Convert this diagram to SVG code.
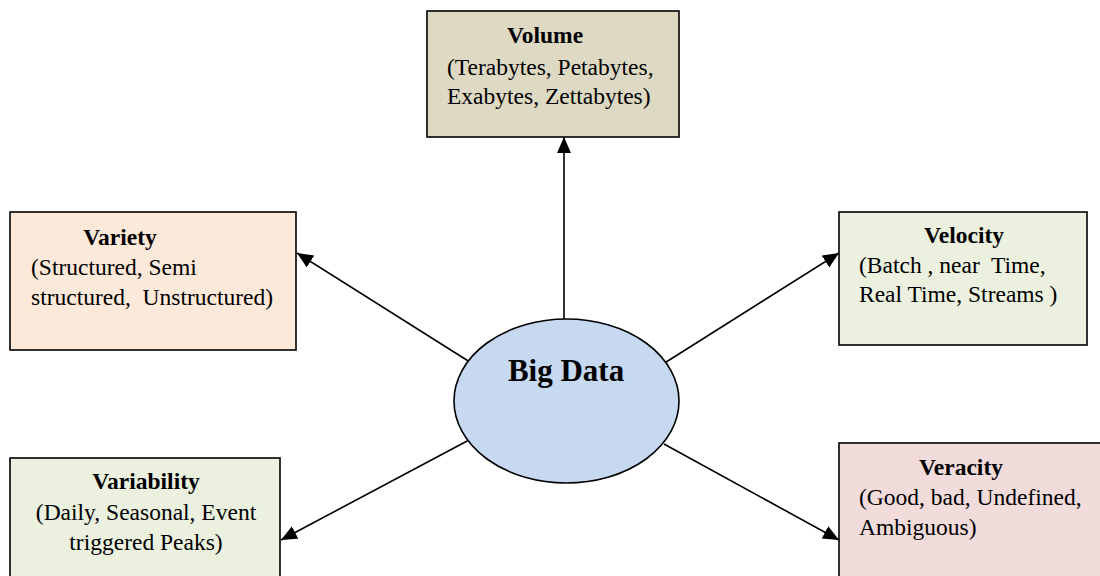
<svg xmlns="http://www.w3.org/2000/svg" width="1100" height="576" viewBox="0 0 1100 576">
<defs>
<marker id="arr" markerUnits="userSpaceOnUse" markerWidth="18" markerHeight="16" refX="16" refY="7" orient="auto">
<path d="M0,0 L16,7 L0,14 Z" fill="#000"/>
</marker>
<style>
.box{stroke:#000;stroke-width:1.6}
.t{font-family:"Liberation Serif","Times New Roman",serif;font-size:23.5px;fill:#000}
.b{font-weight:bold}
.edge{stroke:#000;stroke-width:1.6;fill:none;marker-end:url(#arr)}
</style>
</defs>
<rect width="1100" height="576" fill="#fff"/>
<g id="connectors">
<line class="edge" x1="564" y1="319" x2="564" y2="137"/>
<line class="edge" x1="473" y1="364" x2="297" y2="253"/>
<line class="edge" x1="663" y1="364" x2="839" y2="253"/>
<line class="edge" x1="469" y1="440" x2="281" y2="540"/>
<line class="edge" x1="664" y1="444" x2="839" y2="540"/>
</g>
<g id="volume">
<rect class="box" x="427" y="11" width="252" height="126" fill="#ddd9c3"/>
<text class="t b" x="545" y="43" text-anchor="middle">Volume</text>
<text class="t" x="447" y="75">(Terabytes, Petabytes,</text>
<text class="t" x="447" y="104">Exabytes, Zettabytes)</text>
</g>
<g id="variety">
<rect class="box" x="10" y="212" width="286" height="138" fill="#fde9d9"/>
<text class="t b" x="120" y="245" text-anchor="middle">Variety</text>
<text class="t" x="31" y="275">(Structured, Semi</text>
<text class="t" x="31" y="305" xml:space="preserve">structured,  Unstructured)</text>
</g>
<g id="velocity">
<rect class="box" x="839" y="212" width="248" height="133" fill="#ebf1de"/>
<text class="t b" x="964" y="243" text-anchor="middle">Velocity</text>
<text class="t" x="859" y="273" xml:space="preserve">(Batch , near  Time,</text>
<text class="t" x="859" y="302">Real Time, Streams )</text>
</g>
<g id="variability">
<rect class="box" x="10" y="458" width="270" height="140" fill="#ebf1de"/>
<text class="t b" x="146" y="489" text-anchor="middle">Variability</text>
<text class="t" x="146" y="520" text-anchor="middle">(Daily, Seasonal, Event</text>
<text class="t" x="146" y="550" text-anchor="middle">triggered Peaks)</text>
</g>
<g id="veracity">
<rect class="box" x="839" y="443" width="280" height="150" fill="#f2dcdb"/>
<text class="t b" x="961" y="475" text-anchor="middle">Veracity</text>
<text class="t" x="859" y="505">(Good, bad, Undefined,</text>
<text class="t" x="859" y="535">Ambiguous)</text>
</g>
<g id="bigdata">
<ellipse class="box" cx="566.5" cy="401" rx="112.5" ry="82" fill="#c6d9f1"/>
<text class="t b" x="566" y="381" text-anchor="middle" style="font-size:31px">Big Data</text>
</g>
</svg>
